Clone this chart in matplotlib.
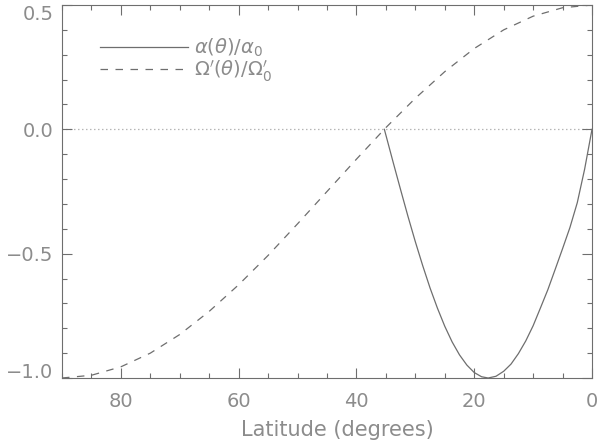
import matplotlib
matplotlib.use("Agg")
import matplotlib.pyplot as plt
from matplotlib.ticker import MultipleLocator

# latitudes (degrees) and values
lat_omega = [90, 85, 80, 75, 70, 65, 60, 55, 50, 45, 40, 35, 30, 25, 20, 15, 10, 5, 0]
omega = [-1.0, -0.989, -0.955, -0.90, -0.825, -0.732, -0.625, -0.507, -0.38, -0.25,
         -0.12, 0.007, 0.125, 0.232, 0.325, 0.40, 0.455, 0.489, 0.5]

lat_alpha = [35.26, 33.75, 32.5, 31.25, 30, 28.75, 27.5, 26.25, 25, 23.75, 22.5,
             21.25, 20, 18.75, 17.63, 16.3, 15, 13.75, 12.5, 11.25, 10, 8.75,
             7.5, 6.25, 5, 3.75, 2.5, 1.25, 0]
alpha = [0.0, -0.134, -0.243, -0.35, -0.452, -0.548, -0.638, -0.719, -0.792,
         -0.855, -0.907, -0.948, -0.978, -0.995, -1.0, -0.993, -0.973, -0.944,
         -0.902, -0.851, -0.79, -0.718, -0.645, -0.563, -0.48, -0.395, -0.295,
         -0.16, 0.0]

yticks = [-1.0, -0.5, 0.0, 0.5]
ytick_labels = ["\u22121.0", "\u22120.5", "0.0", "0.5"]

line_col = "#6e6e6e"
text_col = "#8c8c8c"

plt.rcParams["mathtext.fontset"] = "dejavusans"

fig = plt.figure(figsize=(6, 4.45), dpi=100)
ax = fig.add_axes([62 / 600, 67 / 445, 530 / 600, 373 / 445])

ax.plot(lat_alpha, alpha, color=line_col, lw=0.9, label=r"$\alpha(\theta)/\alpha_0$")
ax.plot(lat_omega, omega, color=line_col, lw=0.9, dashes=(6, 6),
        label=r"$\Omega'(\theta)/\Omega_0'$")
ax.axhline(0, color=line_col, lw=0.9, dashes=(0.6, 2.6))

ax.set_xlim(90, 0)
ax.set_ylim(-1.0, 0.5)
ax.xaxis.set_major_locator(MultipleLocator(20))
ax.xaxis.set_minor_locator(MultipleLocator(5))
ax.set_yticks(yticks, ytick_labels)
ax.yaxis.set_minor_locator(MultipleLocator(0.1))
# keep the end labels inside the figure, as in the original
ax.get_yticklabels()[0].set_va("baseline")
ax.get_yticklabels()[-1].set_va("top")

ax.tick_params(which="both", direction="in", top=True, right=True,
               color=line_col, width=0.8, labelcolor=text_col, labelsize=14)
ax.tick_params(which="major", length=7)
ax.tick_params(which="minor", length=3.6)
ax.tick_params(axis="x", pad=10)
ax.tick_params(axis="y", pad=6)
for s in ax.spines.values():
    s.set_color(line_col)
    s.set_linewidth(0.8)

ax.set_xlabel("Latitude (degrees)", color=text_col, fontsize=15)
ax.xaxis.set_label_coords(0.52, -0.112)

ax.legend(loc="upper left", bbox_to_anchor=(38 / 530, 0.915), frameon=False,
          borderpad=0, borderaxespad=0,
          handlelength=4.55, handletextpad=0.3, labelspacing=-0.05,
          fontsize=14, labelcolor=text_col)

fig.savefig("out.png", dpi=100)
